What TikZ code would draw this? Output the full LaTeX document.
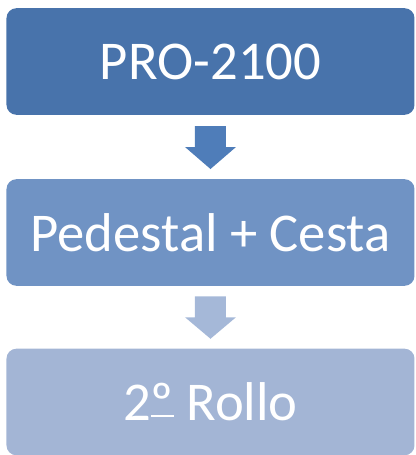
\documentclass[tikz,border=0pt]{standalone}
\usepackage{fontspec}
\setmainfont{Carlito}
\usetikzlibrary{calc}
\definecolor{boxA}{HTML}{4873AB}
\definecolor{boxB}{HTML}{7093C4}
\definecolor{boxC}{HTML}{A3B5D5}
\definecolor{arrA}{HTML}{4F7DB9}
\definecolor{arrB}{HTML}{A5B8D8}
\newsavebox\ordbox
\newcommand\ordmark{\sbox\ordbox{º}º\llap{\rule[3pt]{\wd\ordbox}{1.6pt}}}
\begin{document}
\begin{tikzpicture}[x=0.75pt,y=-0.75pt,
  stagebox/.style={fill=#1,draw=none,rounded corners=7.5pt,minimum width=306pt,minimum height=80pt,inner sep=0pt,text=white,font=\fontsize{41}{49}\selectfont},
  blockarrow/.style={fill=#1,draw=none}]
\useasboundingbox (0,0) rectangle (416,455);
\node[stagebox=boxA] (a) at (210.5,61.5) {PRO-2100};
\node[stagebox=boxB] (b) at (210.5,232.5) {Pedestal + Cesta};
\node[stagebox=boxC] (c) at (210.5,402) {2\ordmark{} Rollo};
\coordinate (ab) at ($(a.south)!0.5!(b.north)$);
\coordinate (bc) at ($(b.south)!0.5!(c.north)$);
\fill[blockarrow=arrA] (ab) ++(-15.5,-21) -- ++(31,0) -- ++(0,21) -- ++(10,0) -- ++(-25.5,22) -- ++(-25.5,-22) -- ++(10,0) -- cycle;
\fill[blockarrow=arrB] (bc) ++(-15.5,-21) -- ++(31,0) -- ++(0,21) -- ++(10,0) -- ++(-25.5,21.5) -- ++(-25.5,-21.5) -- ++(10,0) -- cycle;
\end{tikzpicture}
\end{document}
